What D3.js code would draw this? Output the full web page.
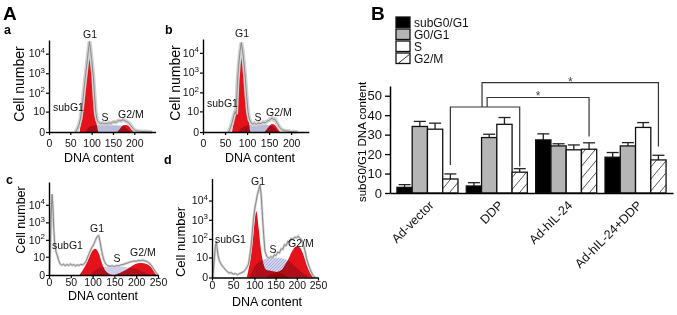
<!DOCTYPE html>
<html>
<head>
<meta charset="utf-8">
<script src="https://cdn.jsdelivr.net/npm/d3@7"></script>
<style>
  body { margin: 0; background: #fff; }
  svg { display: block; font-family: Arial, "Liberation Sans", Helvetica, sans-serif; }
</style>
</head>
<body>
<svg id="fig" width="677" height="315"></svg>
<script>
// ---- panel A: flow histograms, [DNA content, cell number] ----
const aGray = [[62,0],[66,0.4],[70,1.2],[74,4],[78,20],[82,150],[86,900],[90,5000],[93,20000],[95,42000],[97,20000],[100,5000],[104,700],[107,60],[110,8],[113,3],[117,2],[121,1.6],[125,1.9],[129,1.5],[133,1.8],[137,1.6],[141,2],[145,1.7],[149,2.1],[153,2.3],[157,2.1],[161,2.6],[165,2.9],[169,2.7],[173,3.2],[177,2.9],[181,2.5],[185,2.2],[189,1.6],[193,1],[197,0.5],[202,0.2],[210,0.1],[225,0.05],[242,0]];
const aG1 = [[72,0],[77,8],[82,80],[86,460],[91,3300],[95,10000],[100,3300],[104,460],[109,8],[116,0]];
const aS = [[85,0],[92,0.6],[100,1],[110,1.2],[125,1.3],[140,1.3],[155,1.2],[170,1.1],[180,0.7],[190,0]];
const aG2M = [[160,0],[167,0.5],[174,1.2],[181,1.3],[188,0.9],[194,0.4],[200,0]];

const bGray = [[58,0],[62,0.6],[66,2],[70,6],[73,10],[75,7],[78,300],[81,2500],[84,12000],[87,33000],[90,12000],[93,3000],[96,500],[99,60],[102,10],[105,3.5],[109,2],[113,1.5],[117,1.8],[121,1.4],[125,1.9],[129,1.6],[133,1.8],[137,2.1],[141,1.9],[145,2.5],[149,2.8],[153,3.4],[157,4],[160,3.2],[163,3.5],[166,2.4],[170,1.4],[174,0.7],[179,0.3],[186,0.15],[200,0.05],[215,0]];
const bG1 = [[66,0],[72,8],[78,460],[83,3300],[87,7000],[92,3300],[96,460],[102,8],[107,0]];
const bS = [[80,0],[88,0.6],[96,1],[105,1.2],[120,1.3],[135,1.3],[148,1.2],[158,0.9],[165,0.4],[170,0]];
const bG2M = [[140,0],[146,0.5],[152,1.2],[157,1.5],[162,1.3],[168,0.6],[175,0]];

const cGray = [[1,0],[3,30],[5,3000],[7,40000],[9,8000],[11,400],[13,60],[16,20],[19,12],[22,6],[25,3.5],[29,2.6],[33,3.1],[37,2.4],[41,3],[45,2.5],[49,3.2],[53,2.6],[57,2.9],[61,2.3],[65,2.8],[69,2.5],[73,3],[77,2.8],[81,3.4],[85,5],[89,10],[94,20],[98,35],[102,50],[106,90],[110,150],[114,175],[117,80],[120,30],[123,12],[127,5],[131,3],[135,2.4],[140,2.1],[145,2.4],[150,2],[155,2.5],[160,2.3],[165,2.8],[170,3],[175,3.4],[180,3.8],[185,4.5],[190,4.8],[195,5.3],[200,5],[205,5.8],[210,5.5],[215,6],[220,5.4],[225,4.8],[230,3.8],[235,2.5],[240,1.2],[245,0.4],[250,0]];
const cG1 = [[70,0],[78,1],[86,3.5],[94,12],[100,24],[106,30],[111,24],[116,12],[121,4],[127,1.2],[135,0.3],[145,0]];
const cS = [[95,0],[105,0.8],[115,1.5],[125,1.9],[140,2],[160,2],[175,1.9],[190,1.5],[205,1],[220,0.4],[235,0]];
const cG2M = [[150,0],[165,0.4],[180,1.2],[192,2.5],[202,3.5],[212,3.8],[222,3.4],[232,2.2],[240,1],[247,0.2],[250,0]];

const dGray = [[2,0],[5,6],[8,40],[10,75],[12,35],[14,14],[17,7],[20,4.5],[24,3],[28,2.2],[32,1.5],[36,1.1],[40,0.7],[45,0.8],[50,0.5],[55,0.6],[60,0.4],[65,0.6],[70,0.8],[75,1],[79,1.6],[83,2.6],[86,4],[89,12],[92,40],[95,200],[98,1200],[101,4000],[104,9000],[107,20000],[110,35000],[113,66000],[116,20000],[119,1500],[122,150],[125,22],[128,14],[131,10],[135,9],[139,11],[143,9.5],[147,14],[151,13],[155,20],[159,18],[163,30],[167,28],[171,50],[175,45],[179,75],[183,70],[187,105],[191,95],[195,125],[199,115],[203,140],[207,110],[211,90],[215,55],[219,25],[223,9],[227,4],[232,1.5],[238,0.3],[244,0]];
const dG1 = [[82,0],[86,1.5],[90,6],[95,50],[99,370],[104.5,2750],[110,370],[114,50],[120,6],[128,1.5],[140,1.2],[155,0.9],[170,0.4],[185,0]];
const dS = [[88,0],[100,2.5],[112,5.5],[125,8],[140,9.5],[155,9.5],[170,8.5],[182,6],[195,3],[208,1.2],[222,0.3],[232,0]];
const dG2M = [[125,0],[140,0.5],[155,1],[165,1.6],[172,3.5],[180,8],[188,20],[195,35],[201,41],[207,35],[213,20],[219,8],[225,2.5],[232,0.6],[240,0]];

const yTickVals = [0, 10, 100, 1000, 10000];

// ---- panel B: cell cycle distribution (%) ----
const groups = ["Ad-vector", "DDP", "Ad-hIL-24", "Ad-hIL-24+DDP"];
const phases = ["subG0/G1", "G0/G1", "S", "G2/M"];
const subG0G1 = [2.9, 3.6, 27.3, 18.4];
const g0g1 = [34.2, 28.5, 24.2, 24.2];
const sPhase = [32.8, 35.3, 22.2, 33.7];
const g2m = [7.2, 10.7, 22.5, 17.0];
const subG0G1Err = [1.4, 1.7, 3.1, 2.4];
const g0g1Err = [2.6, 1.7, 1.1, 1.7];
const sPhaseErr = [3.1, 3.5, 2.5, 2.5];
const g2mErr = [2.6, 1.8, 3.3, 2.4];
const bTicks = [0, 10, 20, 30, 40, 50];

const svg = d3.select("#fig");
svg.append("rect").attr("width", 677).attr("height", 315).attr("fill", "#fff");

const defs = svg.append("defs");
const hatch = defs.append("pattern").attr("id", "hatch")
    .attr("patternUnits", "userSpaceOnUse").attr("width", 10).attr("height", 12);
hatch.append("rect").attr("width", 10).attr("height", 12).attr("fill", "#fff");
hatch.append("path").attr("d", "M0,12L10,0").attr("stroke", "#555").attr("stroke-width", 1);

const dots = defs.append("pattern").attr("id", "sdots")
    .attr("patternUnits", "userSpaceOnUse").attr("width", 3).attr("height", 3);
dots.append("rect").attr("width", 3).attr("height", 3).attr("fill", "#d3d5ef");
dots.append("path").attr("d", "M0,3L3,0").attr("stroke", "#8d92c9").attr("stroke-width", 0.6);

// panel layout (pixels)
const panels = [
  {id: "a", gray: aGray, g1: aG1, s: aS, g2m: aG2M, xMax: 250, xTicks: [0,50,100,150,200],
   left: 49, right: 155.6, base: 132, top: 40, yMax: 50000, halo: 4, sFill: "#b9bcd9", pad: 5,
   letter: [4, 34], cell: [24, 84, 14], dna: [99, 162],
   g1L: [90, 38], subL: [53, 111], sL: [105, 121], g2L: [118, 118]},
  {id: "b", gray: bGray, g1: bG1, s: bS, g2m: bG2M, xMax: 240, xTicks: [0,50,100,150,200],
   left: 203, right: 308.8, base: 132, top: 39, yMax: 50000, halo: 4, sFill: "#b9bcd9", pad: 5,
   letter: [165, 34], cell: [180, 83, 14], dna: [260, 162],
   g1L: [242, 37], subL: [207, 107], sL: [258, 121], g2L: [266, 116]},
  {id: "c", gray: cGray, g1: cG1, s: cS, g2m: cG2M, xMax: 250, xTicks: [0,50,100,150,200,250],
   left: 49, right: 158, base: 275, top: 182, yMax: 200000, halo: 2.5, sFill: "#ccceea", pad: 1,
   letter: [6, 184], cell: [25, 220, 12.5], dna: [103, 300],
   g1L: [97, 232], subL: [52, 249], sL: [117, 262], g2L: [130, 256]},
  {id: "d", gray: dGray, g1: dG1, s: dS, g2m: dG2M, xMax: 250, xTicks: [0,50,100,150,200,250],
   left: 212, right: 318, base: 277.5, top: 178.5, yMax: 140000, halo: 2.5, sFill: "url(#sdots)", pad: 1.5,
   letter: [164, 164], cell: [185, 242, 13], dna: [267, 306],
   g1L: [258, 185], subL: [215, 243], sL: [273, 253], g2L: [288, 247]}
];

function drawHist(p) {
  const g = svg.append("g").attr("class", "hist-" + p.id);
  const x = d3.scaleLinear().domain([0, p.xMax]).range([p.left, p.right]);
  const y = d3.scaleSymlog().constant(1).domain([0, p.yMax]).range([p.base, p.top]);

  const area = d3.area().x(d => x(d[0])).y0(y(0)).y1(d => y(d[1])).curve(d3.curveMonotoneX);
  const line = d3.line().x(d => x(d[0])).y(d => y(d[1]));

  g.append("path").datum(p.s).attr("d", area).attr("fill", p.sFill);
  g.selectAll(".fit").data([p.g1, p.g2m]).join("path")
      .attr("class", "fit").attr("d", area)
      .attr("fill", "#e3121b").style("mix-blend-mode", "multiply");

  g.append("path").datum(p.gray).attr("d", line)
      .attr("fill", "none").attr("stroke", "#d2d2d2").attr("stroke-width", p.halo);
  g.append("path").datum(p.gray).attr("d", line)
      .attr("fill", "none").attr("stroke", "#8a8a8a").attr("stroke-width", 1);

  // axes
  const xAxis = g.append("g").attr("transform", `translate(0,${p.base})`)
      .call(d3.axisBottom(x).tickValues(p.xTicks).tickSize(3).tickSizeOuter(0).tickPadding(p.pad));
  const yAxis = g.append("g").attr("transform", `translate(${p.left},0)`)
      .call(d3.axisLeft(y).tickValues(yTickVals).tickSize(3).tickSizeOuter(0).tickFormat(""));
  [xAxis, yAxis].forEach(a => {
    a.select(".domain").attr("stroke", "#000").attr("stroke-width", 1.4);
    a.selectAll(".tick line").attr("stroke", "#000").attr("stroke-width", 1.2);
  });
  xAxis.selectAll("text").attr("font-size", 10.5).attr("fill", "#111").attr("font-family", null);

  const yl = g.selectAll(".ylab").data(yTickVals).join("text")
      .attr("class", "ylab")
      .attr("x", p.left - 4).attr("y", d => y(d) + 3.8)
      .attr("text-anchor", "end").attr("font-size", 10.5).attr("fill", "#111");
  yl.append("tspan").text(d => d === 0 ? "0" : "10");
  yl.filter(d => d > 10).append("tspan")
      .attr("dy", -4.5).attr("font-size", 8).text(d => Math.round(Math.log10(d)));

  // labels
  g.append("text").attr("x", p.letter[0]).attr("y", p.letter[1])
      .attr("font-size", 12.5).attr("font-weight", "bold").text(p.id);
  g.append("text").attr("transform", `translate(${p.cell[0]},${p.cell[1]}) rotate(-90)`)
      .attr("text-anchor", "middle").attr("font-size", p.cell[2]).text("Cell number");
  g.append("text").attr("x", p.dna[0]).attr("y", p.dna[1])
      .attr("text-anchor", "middle").attr("font-size", 12.5).text("DNA content");

  const ann = g.append("g").attr("font-size", 10.5).attr("fill", "#111");
  ann.append("text").attr("x", p.g1L[0]).attr("y", p.g1L[1]).attr("text-anchor", "middle").text("G1");
  ann.append("text").attr("x", p.subL[0]).attr("y", p.subL[1]).text("subG1");
  ann.append("text").attr("x", p.sL[0]).attr("y", p.sL[1]).attr("text-anchor", "middle").text("S");
  ann.append("text").attr("x", p.g2L[0]).attr("y", p.g2L[1]).text("G2/M");
}

panels.forEach(drawHist);

svg.append("text").attr("x", 3).attr("y", 20)
    .attr("font-size", 19).attr("font-weight", "bold").text("A");
svg.append("text").attr("x", 371).attr("y", 20)
    .attr("font-size", 19).attr("font-weight", "bold").text("B");

// ---- panel B bar chart ----
const means = [subG0G1, g0g1, sPhase, g2m];
const errs = [subG0G1Err, g0g1Err, sPhaseErr, g2mErr];
const fills = ["#000", "#b5b5b5", "#fff", "url(#hatch)"];

const x0 = d3.scaleBand().domain(groups).range([390, 673]).paddingInner(0.12).paddingOuter(0.1);
const x1 = d3.scaleBand().domain(phases).range([0, x0.bandwidth()]);
const yB = d3.scaleLinear().domain([0, 55]).range([193, 86]);

const barData = groups.flatMap((grp, i) =>
  phases.map((ph, j) => ({group: grp, phase: ph, v: means[j][i], e: errs[j][i], fill: fills[j]})));

const gB = svg.append("g").attr("class", "bars");

gB.selectAll(".err").data(barData).join("g").attr("class", "err")
  .each(function(d) {
    const cx = x0(d.group) + x1(d.phase) + x1.bandwidth() / 2;
    const sel = d3.select(this).attr("stroke", "#222").attr("stroke-width", 1.3);
    sel.append("line").attr("x1", cx).attr("x2", cx).attr("y1", yB(d.v)).attr("y2", yB(d.v + d.e));
    sel.append("line").attr("x1", cx - 6).attr("x2", cx + 6).attr("y1", yB(d.v + d.e)).attr("y2", yB(d.v + d.e));
  });

gB.selectAll(".bar").data(barData).join("rect").attr("class", "bar")
    .attr("x", d => x0(d.group) + x1(d.phase))
    .attr("y", d => yB(d.v))
    .attr("width", x1.bandwidth())
    .attr("height", d => yB(0) - yB(d.v))
    .attr("fill", d => d.fill)
    .attr("stroke", "#111").attr("stroke-width", 1.3);

// axes
const yAxB = gB.append("g").attr("transform", "translate(390,0)")
    .call(d3.axisLeft(yB).tickValues(bTicks).tickSize(5).tickSizeOuter(0).tickPadding(3));
yAxB.selectAll("text").attr("font-size", 13).attr("font-family", null).attr("fill", "#111");
const xAxB = gB.append("g").attr("transform", "translate(0,193)")
    .call(d3.axisBottom(x0).tickSize(0).tickSizeOuter(0).tickFormat(""));
[yAxB, xAxB].forEach(a => {
  a.select(".domain").attr("stroke", "#000").attr("stroke-width", 1.5);
  a.selectAll(".tick line").attr("stroke", "#000").attr("stroke-width", 1.3);
});

gB.selectAll(".xlab").data(groups).join("text").attr("class", "xlab")
    .attr("transform", d => `translate(${x0(d) + x0.bandwidth() / 2 + 7},206) rotate(-45)`)
    .attr("text-anchor", "end").attr("font-size", 12.5).attr("fill", "#111").text(d => d);

gB.append("text").attr("transform", "translate(366,142) rotate(-90)")
    .attr("text-anchor", "middle").attr("font-size", 11.5).text("subG0/G1 DNA content");

// significance brackets on G2/M bars
const cxG2M = grp => x0(grp) + x1("G2/M") + x1.bandwidth() / 2;
const dropTo = [14.4, 13.6, 29, 23.9];
const levels = [44.2, 49.1, 56.7];
const br = gB.append("g").attr("fill", "none").attr("stroke", "#333").attr("stroke-width", 1.2);
const xa = cxG2M(groups[0]), xb = cxG2M(groups[1]);
const stemHi = xa + (xb - xa) * 0.457, stemMid = xa + (xb - xa) * 0.53;
const pathB = d3.path();
pathB.moveTo(xa, yB(dropTo[0])); pathB.lineTo(xa, yB(levels[0]));
pathB.lineTo(xb, yB(levels[0])); pathB.lineTo(xb, yB(dropTo[1]));
pathB.moveTo(stemMid, yB(levels[0])); pathB.lineTo(stemMid, yB(levels[1]));
pathB.lineTo(cxG2M(groups[2]), yB(levels[1])); pathB.lineTo(cxG2M(groups[2]), yB(dropTo[2]));
pathB.moveTo(stemHi, yB(levels[0])); pathB.lineTo(stemHi, yB(levels[2]));
pathB.lineTo(cxG2M(groups[3]), yB(levels[2])); pathB.lineTo(cxG2M(groups[3]), yB(dropTo[3]));
br.append("path").attr("d", pathB.toString());

gB.append("text").attr("x", (stemMid + cxG2M(groups[2])) / 2).attr("y", yB(levels[1]) + 3)
    .attr("text-anchor", "middle").attr("font-size", 12).attr("fill", "#444").text("*");
gB.append("text").attr("x", (stemHi + cxG2M(groups[3])) / 2).attr("y", yB(levels[2]) + 3)
    .attr("text-anchor", "middle").attr("font-size", 12).attr("fill", "#444").text("*");

// legend
const leg = gB.append("g").attr("transform", "translate(396,17)");
const legRow = leg.selectAll("g").data(phases).join("g")
    .attr("transform", (d, i) => `translate(0,${i * 12})`);
legRow.append("rect").attr("width", 14).attr("height", 10.5)
    .attr("fill", (d, i) => i === 3 ? "#fff" : fills[i])
    .attr("stroke", "#111").attr("stroke-width", 1.3);
legRow.filter((d, i) => i === 3).append("path")
    .attr("d", "M2,10.5L14,1").attr("stroke", "#333").attr("stroke-width", 1);
legRow.append("text").attr("x", 18).attr("y", 10)
    .attr("font-size", 12).attr("fill", "#111").text(d => d);
</script>
</body>
</html>
